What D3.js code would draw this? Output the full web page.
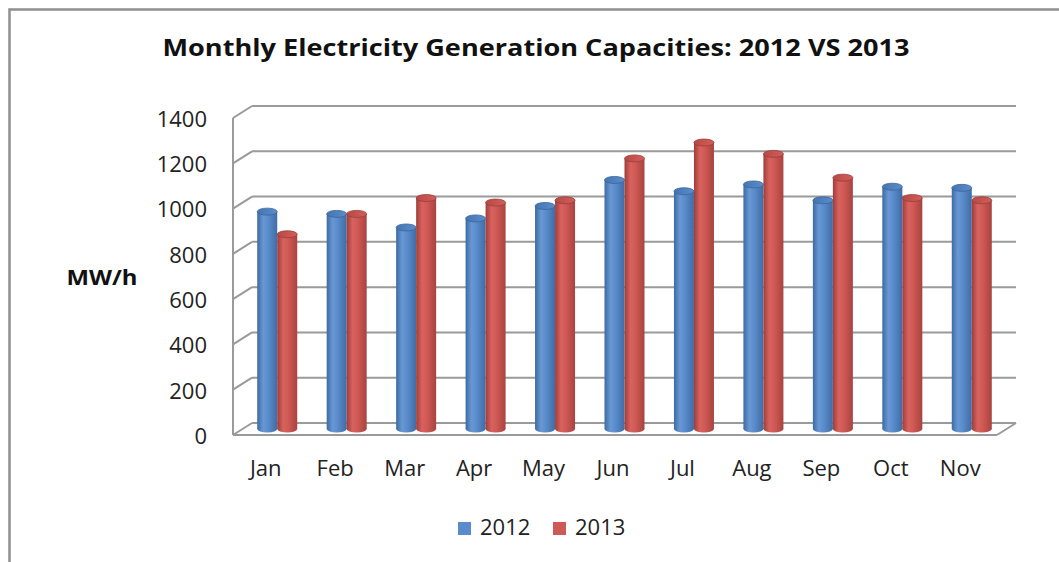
<!DOCTYPE html>
<html lang="en">
<head>
<meta charset="utf-8">
<title>Monthly Electricity Generation Capacities</title>
<style>
  body { margin: 0; background: #fff; }
  svg { display: block; font-family: "Open Sans", "Liberation Sans", sans-serif; }
  .grid line { stroke: #9a9a9a; stroke-width: 2; }
  .tick-label { font-size: 22px; fill: #222; }
</style>
</head>
<body>
<svg width="1059" height="562"></svg>
<script src="https://d3js.org/d3.v7.min.js"></script>
<script>
// chart data
var months = ["Jan", "Feb", "Mar", "Apr", "May", "Jun", "Jul", "Aug", "Sep", "Oct", "Nov"];
var series = ["2012", "2013"];
var values2012 = [960, 950, 890, 930, 985, 1100, 1050, 1080, 1010, 1070, 1065];
var values2013 = [860, 950, 1020, 1000, 1010, 1195, 1265, 1215, 1110, 1020, 1010];
var yTicks = [0, 200, 400, 600, 800, 1000, 1200, 1400];

var svg = d3.select("svg");
var W = 1059, H = 562;

// outer border (top + left visible)
svg.append("path")
    .attr("d", "M9.5," + H + "V9.5H" + W)
    .attr("fill", "none").attr("stroke", "#8f8f8f").attr("stroke-width", 2.5);

// title
svg.append("text")
    .attr("x", 536).attr("y", 56)
    .attr("text-anchor", "middle")
    .attr("font-size", 24).attr("font-weight", "bold").attr("fill", "#111")
    .attr("textLength", 747).attr("lengthAdjust", "spacingAndGlyphs")
    .text("Monthly Electricity Generation Capacities: 2012 VS 2013");

// scales (front plane)
var x = d3.scaleBand().domain(months).range([233, 997]);
var y = d3.scaleLinear().domain([0, 1400]).range([435, 118]);
var dx = 19, dy = -12;   // depth offset of back wall

// gradients
var defs = svg.append("defs");
function cylGrad(id, stops) {
  var g = defs.append("linearGradient").attr("id", id)
      .attr("x1", "0%").attr("x2", "100%").attr("y1", "0%").attr("y2", "0%");
  stops.forEach(function(s) {
    g.append("stop").attr("offset", s[0]).attr("stop-color", s[1]);
  });
}
cylGrad("gBlue", [["0%", "#3c6aa2"], ["30%", "#6898d4"], ["55%", "#5a8bcb"], ["100%", "#3f6ca5"]]);
cylGrad("gRed", [["0%", "#9e3d3a"], ["30%", "#d9625e"], ["55%", "#cf5955"], ["100%", "#a8433f"]]);
cylGrad("gBlueTop", [["0%", "#4475b2"], ["100%", "#5c8ccb"]]);
cylGrad("gRedTop", [["0%", "#b54a46"], ["100%", "#d45d59"]]);

// walls + gridlines
var grid = svg.append("g").attr("class", "grid");
grid.selectAll(".back").data(yTicks).enter().append("line")
    .attr("x1", x.range()[0] + dx).attr("x2", x.range()[1] + dx)
    .attr("y1", function(d) { return y(d) + dy; })
    .attr("y2", function(d) { return y(d) + dy; });
grid.selectAll(".side").data(yTicks).enter().append("line")
    .attr("x1", x.range()[0]).attr("x2", x.range()[0] + dx)
    .attr("y1", function(d) { return y(d); })
    .attr("y2", function(d) { return y(d) + dy; });
grid.append("line")
    .attr("x1", x.range()[0]).attr("x2", x.range()[0])
    .attr("y1", y(1400)).attr("y2", y(0));
grid.append("line")
    .attr("x1", x.range()[0]).attr("x2", x.range()[1])
    .attr("y1", y(0)).attr("y2", y(0));
grid.append("line")
    .attr("x1", x.range()[1]).attr("x2", x.range()[1] + dx)
    .attr("y1", y(0)).attr("y2", y(0) + dy);

// y tick labels
svg.selectAll(".ylab").data(yTicks).enter().append("text")
    .attr("class", "tick-label")
    .attr("x", 207).attr("y", function(d) { return y(d) + 3; })
    .attr("text-anchor", "end").attr("dominant-baseline", "middle")
    .text(function(d) { return d; });

svg.append("text")
    .attr("x", 102).attr("y", 279)
    .attr("text-anchor", "middle").attr("dominant-baseline", "middle")
    .attr("font-size", 22).attr("font-weight", "bold").attr("fill", "#111")
    .attr("textLength", 71).attr("lengthAdjust", "spacingAndGlyphs")
    .text("MW/h");

// month labels
svg.selectAll(".xlab").data(months).enter().append("text")
    .attr("class", "tick-label")
    .attr("x", function(d) { return x(d) + x.bandwidth() / 2 - 2; })
    .attr("y", 470)
    .attr("text-anchor", "middle").attr("dominant-baseline", "middle")
    .text(function(d) { return d; });

// cylinders
var barW = 20, ry = 3.5;
var bars = [];
months.forEach(function(m, i) {
  bars.push({ m: m, s: 0, v: values2012[i] });
  bars.push({ m: m, s: 1, v: values2013[i] });
});
var zero = y(0) + dy / 2;
var cyl = svg.selectAll(".cyl").data(bars).enter().append("g")
    .attr("transform", function(d) {
      var cx = x(d.m) + x.bandwidth() / 2 + dx / 2;
      return "translate(" + (d.s === 0 ? cx - barW : cx) + ",0)";
    });
function barTop(d) { return zero - (y(0) - y(d.v)); }
cyl.append("ellipse")
    .attr("cx", barW / 2).attr("cy", zero).attr("rx", barW / 2).attr("ry", ry)
    .attr("fill", function(d) { return d.s === 0 ? "url(#gBlue)" : "url(#gRed)"; });
cyl.append("rect")
    .attr("x", 0).attr("width", barW)
    .attr("y", barTop)
    .attr("height", function(d) { return zero - barTop(d); })
    .attr("fill", function(d) { return d.s === 0 ? "url(#gBlue)" : "url(#gRed)"; });
cyl.append("ellipse")
    .attr("cx", barW / 2).attr("cy", barTop).attr("rx", barW / 2).attr("ry", ry)
    .attr("fill", function(d) { return d.s === 0 ? "url(#gBlueTop)" : "url(#gRedTop)"; })
    .attr("stroke", function(d) { return d.s === 0 ? "#3a659b" : "#9c3c39"; })
    .attr("stroke-width", 0.8);

// legend
var legColors = ["#5a8bcb", "#cc5a56"];
var legX = [458, 553];
var leg = svg.selectAll(".leg").data(series).enter().append("g")
    .attr("transform", function(d, i) { return "translate(" + legX[i] + ",522)"; });
leg.append("rect").attr("width", 13).attr("height", 13)
    .attr("fill", function(d, i) { return legColors[i]; });
leg.append("text")
    .attr("class", "tick-label")
    .attr("x", 22).attr("y", 7)
    .attr("dominant-baseline", "middle")
    .text(function(d) { return d; });
</script>
</body>
</html>
